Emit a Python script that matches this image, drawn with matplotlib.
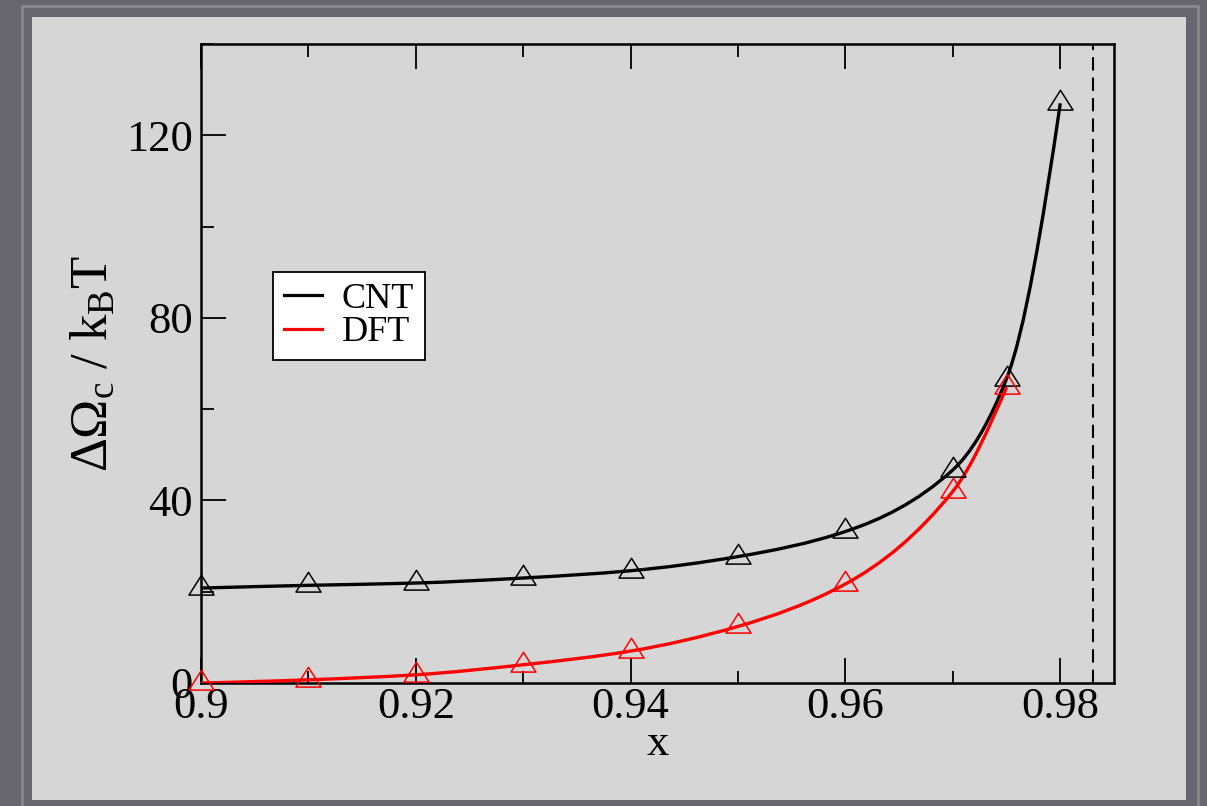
import numpy as np
import matplotlib
matplotlib.use("Agg")
import matplotlib.pyplot as plt
from matplotlib.path import Path
from matplotlib.patches import PathPatch, Rectangle
from matplotlib.ticker import MultipleLocator

# ---------------- data ----------------
x_cnt = [0.90, 0.91, 0.92, 0.93, 0.94, 0.95, 0.96, 0.97, 0.975, 0.98]
y_cnt = [20.8, 21.4, 21.9, 23.0, 24.6, 27.7, 33.2, 46.7, 66.7, 127.0]
x_dft = [0.90, 0.91, 0.92, 0.93, 0.94, 0.95, 0.96, 0.97, 0.975]
y_dft = [0.0, 0.7, 1.8, 4.0, 7.0, 12.4, 21.7, 42.0, 64.8]
x_limit = 0.983
labels = ["CNT", "DFT"]
x_ticks = [0.90, 0.92, 0.94, 0.96, 0.98]
x_ticklabels = ["0.9", "0.92", "0.94", "0.96", "0.98"]
y_ticks = [0, 40, 80, 120]

W, H = 1207, 806
plt.rcParams["font.family"] = ["Liberation Serif", "DejaVu Serif"]
plt.rcParams["mathtext.fontset"] = "custom"
plt.rcParams["mathtext.rm"] = "Liberation Serif"
plt.rcParams["mathtext.it"] = "Liberation Serif:italic"

fig = plt.figure(figsize=(W / 100, H / 100), dpi=100, facecolor="#67666e")

def fx(px):
    return px / W

def fy(py):
    return 1 - py / H

# light panel and frame stripe
fig.patches.append(Rectangle((fx(32), fy(800)), fx(1186) - fx(32), fy(17) - fy(800),
                             transform=fig.transFigure, facecolor="#d6d6d6",
                             edgecolor="none", zorder=-10))
fig.patches.append(Rectangle((fx(21.5), fy(830)), fx(1197.5) - fx(21.5), fy(6) - fy(830),
                             transform=fig.transFigure, facecolor="none",
                             edgecolor="#8c8b93", linewidth=1.8, zorder=-10))

ax = fig.add_axes([fx(201), fy(683), fx(1114) - fx(201), fy(44) - fy(683)])
ax.set_facecolor("none")

# custom triangle marker whose centroid is the data point
tri = Path([(0, 2), (-1.9, -1), (1.9, -1), (0, 2)],
           [Path.MOVETO, Path.LINETO, Path.LINETO, Path.CLOSEPOLY])


def pchip_slopes(x, y):
    x = np.asarray(x, float)
    y = np.asarray(y, float)
    h = np.diff(x)
    d = np.diff(y) / h
    m = np.zeros_like(y)
    for i in range(1, len(x) - 1):
        if d[i - 1] * d[i] > 0:
            w1 = 2 * h[i] + h[i - 1]
            w2 = h[i] + 2 * h[i - 1]
            m[i] = (w1 + w2) / (w1 / d[i - 1] + w2 / d[i])
    m[0] = ((2 * h[0] + h[1]) * d[0] - h[0] * d[1]) / (h[0] + h[1])
    m[-1] = ((2 * h[-1] + h[-2]) * d[-1] - h[-1] * d[-2]) / (h[-1] + h[-2])
    return m


def smooth_path(x, y):
    m = pchip_slopes(x, y)
    verts = [(x[0], y[0])]
    codes = [Path.MOVETO]
    for i in range(len(x) - 1):
        h = x[i + 1] - x[i]
        verts += [(x[i] + h / 3, y[i] + m[i] * h / 3),
                  (x[i + 1] - h / 3, y[i + 1] - m[i + 1] * h / 3),
                  (x[i + 1], y[i + 1])]
        codes += [Path.CURVE4] * 3
    return Path(verts, codes)


for xs, ys, col, lab in [(x_cnt, y_cnt, "black", labels[0]),
                         (x_dft, y_dft, "#ff0000", labels[1])]:
    ax.add_patch(PathPatch(smooth_path(xs, ys), facecolor="none",
                           edgecolor=col, linewidth=2.4, zorder=3))
    ax.plot(xs, ys, linestyle="none", marker=tri, markersize=19,
            markerfacecolor="none", markeredgecolor=col, markeredgewidth=1.1,
            zorder=4, clip_on=False)
    ax.plot([], [], color=col, linewidth=2.3, label=lab)

ax.axvline(x_limit, color="black", linewidth=1.5, dashes=(6.4, 3.4), zorder=2)

ax.set_xlim(0.9, 0.985)
ax.set_ylim(0, 140)
ax.set_xticks(x_ticks)
ax.set_xticklabels(x_ticklabels)
ax.xaxis.set_minor_locator(MultipleLocator(0.01))
ax.set_yticks(y_ticks)
ax.yaxis.set_minor_locator(MultipleLocator(20))
ax.tick_params(axis="x", which="both", direction="in", top=True, bottom=True,
               labelsize=32, pad=3, width=1.3, color="black")
ax.tick_params(axis="y", which="both", direction="in", left=True, right=False,
               labelsize=32, pad=6, width=1.3, color="black")
ax.tick_params(which="major", length=18)
ax.tick_params(which="minor", length=9)
for s in ax.spines.values():
    s.set_linewidth(1.8)
    s.set_color("black")

ax.set_xlabel("x", fontsize=32, labelpad=-2)
ax.set_ylabel(r"$\mathrm{\Delta\Omega_c\ /\ k_B T}$", fontsize=38, labelpad=6)

leg = ax.legend(loc="upper left",
                bbox_to_anchor=((273 - 201) / (1114 - 201), (683 - 272) / (683 - 44)),
                fontsize=26, frameon=True, fancybox=False, framealpha=1,
                edgecolor="black", facecolor="white", handlelength=1.05,
                handletextpad=0.55, labelspacing=0.0, borderpad=0.3,
                borderaxespad=0.0)
leg.get_frame().set_linewidth(1.3)

fig.savefig("out.png", dpi=100, facecolor=fig.get_facecolor())
